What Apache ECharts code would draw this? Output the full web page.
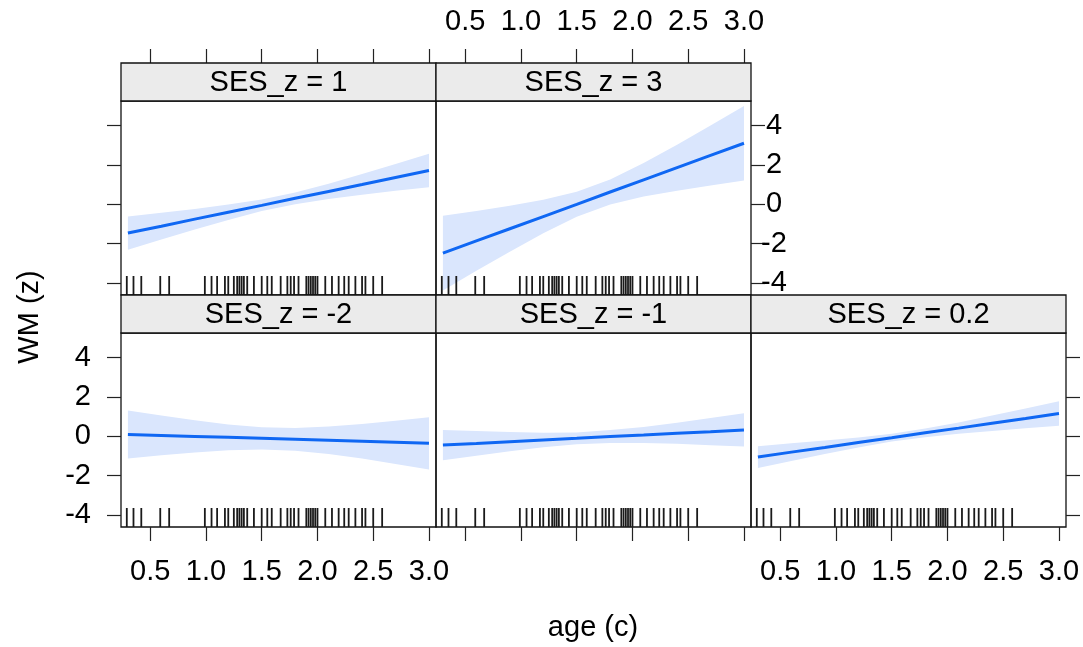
<!DOCTYPE html>
<html>
<head>
<meta charset="utf-8">
<script src="https://cdn.jsdelivr.net/npm/echarts@6/dist/echarts.min.js"></script>
<style>
  html, body { margin: 0; padding: 0; background: #fff; }
  #chart { width: 1083px; height: 647px; }
</style>
</head>
<body>
<div id="chart"></div>
<script>
// ---------------- DATA ----------------
const panelTitles = ['SES_z = 1', 'SES_z = 3', 'SES_z = -2', 'SES_z = -1', 'SES_z = 0.2'];
const ageX = [0.3, 0.6, 0.9, 1.2, 1.5, 1.8, 2.1, 2.4, 2.7, 3.0];

const fitSes1   = [-1.47, -1.12, -0.76, -0.41, -0.06, 0.30, 0.65, 1.00, 1.36, 1.71];
const upperSes1 = [-0.62, -0.44, -0.24, -0.02, 0.24, 0.59, 1.04, 1.53, 2.04, 2.56];
const lowerSes1 = [-2.32, -1.80, -1.29, -0.80, -0.35, 0.00, 0.26, 0.48, 0.68, 0.86];

const fitSes3   = [-2.49, -1.87, -1.25, -0.63, -0.01, 0.62, 1.24, 1.86, 2.48, 3.10];
const upperSes3 = [-0.59, -0.35, -0.08, 0.22, 0.63, 1.25, 2.09, 3.02, 4.00, 5.00];
const lowerSes3 = [-4.39, -3.39, -2.42, -1.48, -0.64, -0.02, 0.39, 0.69, 0.95, 1.20];

const fitSesM2   = [0.09, 0.04, -0.01, -0.06, -0.11, -0.16, -0.21, -0.26, -0.31, -0.36];
const upperSesM2 = [1.31, 1.05, 0.81, 0.60, 0.46, 0.42, 0.49, 0.62, 0.79, 0.97];
const lowerSesM2 = [-1.13, -0.97, -0.83, -0.72, -0.68, -0.74, -0.91, -1.14, -1.41, -1.69];

const fitSesM1   = [-0.45, -0.37, -0.28, -0.19, -0.11, -0.02, 0.06, 0.15, 0.23, 0.32];
const upperSesM1 = [0.32, 0.26, 0.21, 0.18, 0.19, 0.31, 0.47, 0.69, 0.92, 1.17];
const lowerSesM1 = [-1.22, -0.99, -0.77, -0.56, -0.41, -0.35, -0.35, -0.39, -0.46, -0.53];

const fitSes02   = [-1.06, -0.81, -0.57, -0.32, -0.08, 0.17, 0.41, 0.66, 0.90, 1.15];
const upperSes02 = [-0.51, -0.36, -0.22, -0.07, 0.12, 0.39, 0.70, 1.05, 1.41, 1.78];
const lowerSes02 = [-1.62, -1.26, -0.91, -0.58, -0.27, -0.05, 0.13, 0.27, 0.40, 0.53];

// observed ages (rug)
const rugAge = [0.29, 0.35, 0.42, 0.59, 0.67, 0.99, 1.05, 1.10, 1.17, 1.20, 1.25, 1.28,
                1.30, 1.32, 1.34, 1.37, 1.43, 1.50, 1.55, 1.59, 1.67, 1.73, 1.76, 1.79,
                1.83, 1.90, 1.92, 1.94, 1.96, 1.98, 2.00, 2.07, 2.13, 2.19, 2.24, 2.28,
                2.34, 2.40, 2.43, 2.50, 2.58];

const xTickValues = [0.5, 1.0, 1.5, 2.0, 2.5, 3.0];
const yTickValues = [-4, -2, 0, 2, 4];
const xLabel = 'age (c)';
const yLabel = 'WM (z)';

// ---------------- LAYOUT ----------------
const panelsData = [
  { fit: fitSes1,  up: upperSes1,  lo: lowerSes1 },
  { fit: fitSes3,  up: upperSes3,  lo: lowerSes3 },
  { fit: fitSesM2, up: upperSesM2, lo: lowerSesM2 },
  { fit: fitSesM1, up: upperSesM1, lo: lowerSesM1 },
  { fit: fitSes02, up: upperSes02, lo: lowerSes02 }
];
const gLeft = [121, 436, 121, 436, 751];
const gTop  = [101, 101, 333, 333, 333];
const gW = 315, gH = 194, stripH = 38;
const X_MIN = 0.238, X_MAX = 3.063, Y_MIN = -4.62, Y_MAX = 5.25;
const FONT = 'Liberation Sans, Arial, Helvetica, sans-serif';
const FS = 29;
const LINE_COLOR = '#0f67f3';
const BAND_COLOR = '#dae6fd';

// axis roles per panel
const xRole = [
  { pos: 'top', ticks: true, labels: false },
  { pos: 'top', ticks: true, labels: true },
  { pos: 'bottom', ticks: true, labels: true },
  { pos: 'bottom', ticks: true, labels: false },
  { pos: 'bottom', ticks: true, labels: true }
];
const yRole = [
  { pos: 'left', ticks: true, labels: false },
  { pos: 'right', ticks: true, labels: true },
  { pos: 'left', ticks: true, labels: true },
  { pos: 'left', ticks: false, labels: false },
  { pos: 'right', ticks: true, labels: false }
];

const grids = [], xAxes = [], yAxes = [], series = [], graphics = [];

for (let i = 0; i < 5; i++) {
  grids.push({
    left: gLeft[i], top: gTop[i], width: gW, height: gH,
    show: true, borderColor: '#111', borderWidth: 1.3, backgroundColor: 'transparent'
  });
  const xr = xRole[i];
  xAxes.push({
    type: 'value', gridIndex: i, min: X_MIN, max: X_MAX,
    position: xr.pos, offset: xr.pos === 'top' ? stripH : 0,
    axisLine: { show: false, onZero: false },
    splitLine: { show: false },
    axisTick: { show: xr.ticks, length: 14, customValues: xTickValues,
                lineStyle: { color: '#222', width: 1.2 } },
    axisLabel: { show: xr.labels, customValues: xTickValues,
                 formatter: v => Number(v).toFixed(1),
                 fontSize: FS, color: '#000', fontFamily: FONT, margin: xr.pos === 'top' ? 27 : 30 }
  });
  const yr = yRole[i];
  yAxes.push({
    type: 'value', gridIndex: i, min: Y_MIN, max: Y_MAX,
    position: yr.pos,
    axisLine: { show: false, onZero: false },
    splitLine: { show: false },
    axisTick: { show: yr.ticks, length: 14, customValues: yTickValues,
                lineStyle: { color: '#222', width: 1.2 } },
    axisLabel: { show: yr.labels, customValues: yTickValues,
                 fontSize: FS, color: '#000', fontFamily: FONT,
                 margin: yr.pos === 'left' ? 30 : 23,
                 align: yr.pos === 'left' ? 'right' : 'center' }
  });

  const pd = panelsData[i];
  // confidence band
  series.push({
    type: 'custom', xAxisIndex: i, yAxisIndex: i, z: 1, silent: true,
    data: ageX.map((x, j) => [x, pd.lo[j], pd.up[j]]),
    encode: { x: 0, y: [1, 2] },
    renderItem: (params, api) => {
      if (params.dataIndex !== 0) return null;
      const pts = [];
      for (let j = 0; j < ageX.length; j++) pts.push(api.coord([ageX[j], pd.up[j]]));
      for (let j = ageX.length - 1; j >= 0; j--) pts.push(api.coord([ageX[j], pd.lo[j]]));
      return { type: 'polygon', shape: { points: pts }, style: { fill: BAND_COLOR } };
    }
  });
  // rug
  series.push({
    type: 'custom', xAxisIndex: i, yAxisIndex: i, z: 3, silent: true,
    data: rugAge.map(v => [v, Y_MIN]),
    encode: { x: 0, y: 1 },
    renderItem: (params, api) => {
      const p = api.coord([api.value(0), api.value(1)]);
      return { type: 'line', shape: { x1: p[0], y1: p[1], x2: p[0], y2: p[1] - 19 },
               style: { stroke: '#1a1a1a', lineWidth: 1.8 } };
    }
  });
  // fitted line
  series.push({
    type: 'line', xAxisIndex: i, yAxisIndex: i, z: 4, silent: true,
    data: ageX.map((x, j) => [x, pd.fit[j]]),
    showSymbol: false, symbol: 'none',
    lineStyle: { color: LINE_COLOR, width: 3 },
    animation: false
  });

  // strip
  graphics.push({
    type: 'rect', z: 10,
    shape: { x: gLeft[i], y: gTop[i] - stripH, width: gW, height: stripH },
    style: { fill: '#ebebeb', stroke: '#111', lineWidth: 1.3 }
  });
  graphics.push({
    type: 'text', z: 11,
    x: gLeft[i] + gW / 2, y: gTop[i] - stripH / 2 + 1,
    style: { text: panelTitles[i], fontSize: FS, fontFamily: FONT, fill: '#000',
             textAlign: 'center', textVerticalAlign: 'middle' }
  });
}

graphics.push({
  type: 'text', z: 11, x: 593, y: 628,
  style: { text: xLabel, fontSize: FS, fontFamily: FONT, fill: '#000',
           textAlign: 'center', textVerticalAlign: 'middle' }
});
graphics.push({
  type: 'text', z: 11, x: 30, y: 317, rotation: Math.PI / 2,
  style: { text: yLabel, fontSize: FS, fontFamily: FONT, fill: '#000',
           textAlign: 'center', textVerticalAlign: 'middle' }
});

const chart = echarts.init(document.getElementById('chart'), null, { renderer: 'canvas' });
chart.setOption({
  animation: false,
  backgroundColor: '#fff',
  grid: grids,
  xAxis: xAxes,
  yAxis: yAxes,
  series: series,
  graphic: graphics
});
</script>
</body>
</html>
